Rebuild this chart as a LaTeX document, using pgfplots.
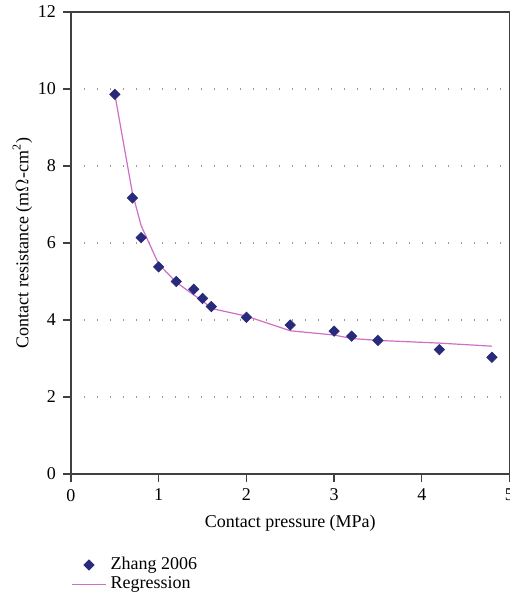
\documentclass[border=0pt]{standalone}
\usepackage{fontspec}
\setmainfont{Liberation Serif}
\usepackage{pgfplots}
\pgfplotsset{compat=1.18}
\definecolor{navy}{RGB}{40,42,122}
\definecolor{regpink}{RGB}{206,110,196}
\begin{document}
\begin{tikzpicture}
\begin{axis}[
  scale only axis,
  width=219.25pt, height=231pt,
  xmin=0, xmax=5, ymin=0, ymax=12,
  xtick={0,1,2,3,4,5}, ytick={0,2,4,6,8,10,12},
  tick align=outside, tick pos=left,
  major tick length=4pt,
  axis line style={black!75, line width=0.6pt},
  tick style={black!75, line width=0.6pt},
  ymajorgrids,
  grid style={gray!80, line width=0.7pt, dash pattern=on 0.6pt off 5.9pt},
  font=\fontsize{9}{11}\selectfont,
  /pgf/number format/assume math mode=true,
  xlabel={Contact pressure (MPa)},
  ylabel={Contact resistance (m$\Omega$-cm\textsuperscript{2})},
  xlabel style={yshift=0pt},
  ylabel style={yshift=-4pt},
  legend style={at={(rel axis cs:0,-0.162)}, anchor=north west, draw=none, fill=none,
    font=\fontsize{9}{11}\selectfont, row sep=-2pt, inner xsep=0pt},
  legend cell align=left,
]
\coordinate (ll) at (rel axis cs:0,0);
\addplot[only marks, mark=square*, mark size=1.8pt, color=navy, mark options={rotate=45}]
coordinates {
(0.5,9.86) (0.7,7.17) (0.8,6.14) (1.0,5.38) (1.2,5.00) (1.4,4.80) (1.5,4.56) (1.6,4.35)
(2.0,4.07) (2.5,3.87) (3.0,3.71) (3.2,3.58) (3.5,3.47) (4.2,3.23) (4.8,3.03)
};
\addlegendentry{Zhang 2006}
\addplot[regpink, line width=0.6pt, mark=none]
coordinates {
(0.5,9.86) (0.7,7.30) (0.8,6.45) (1.0,5.45) (1.2,4.98) (1.4,4.65) (1.5,4.50) (1.6,4.30)
(2.0,4.10) (2.5,3.72) (3.0,3.61) (3.2,3.52) (3.5,3.47) (4.2,3.40) (4.8,3.32)
};
\addlegendentry{Regression}
\end{axis}
\pgfresetboundingbox
\path ([shift={(-35.5pt,-60pt)}]ll) rectangle ++(254.5pt,297pt);
\end{tikzpicture}
\end{document}
